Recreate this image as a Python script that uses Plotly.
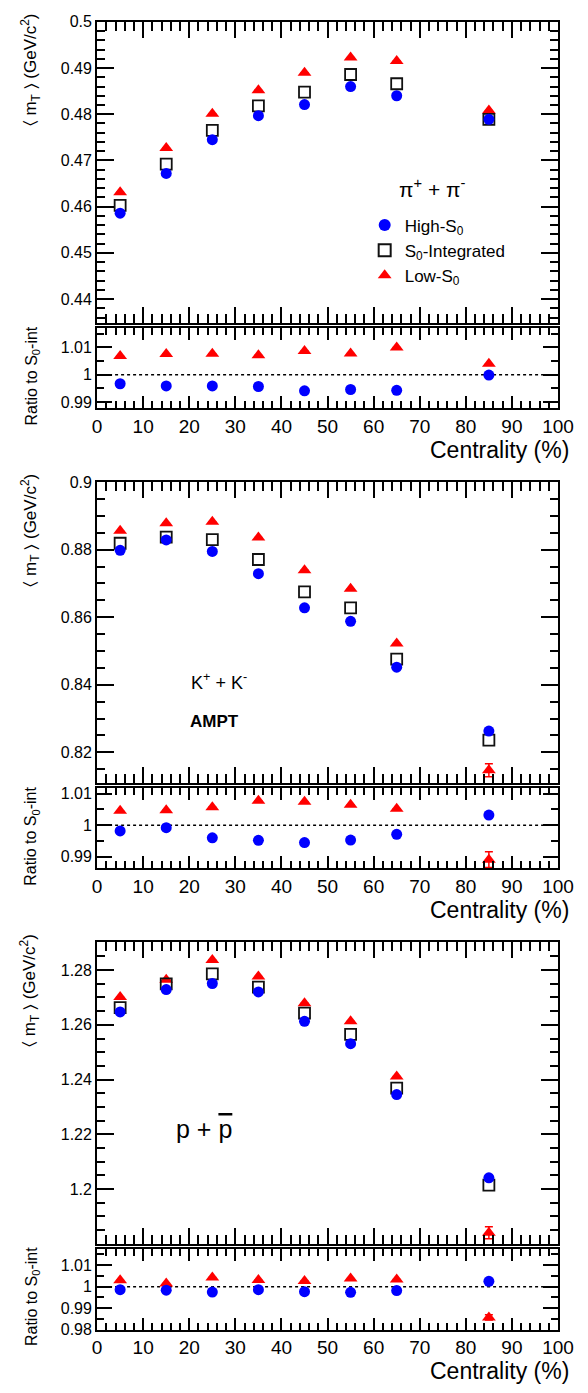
import plotly.graph_objects as go

# ---------------- data ----------------
centrality = [5, 15, 25, 35, 45, 55, 65, 85]

pi_high = [0.4586, 0.4672, 0.4745, 0.4797, 0.4821, 0.4860, 0.4840, 0.4789]
pi_int = [0.4603, 0.4692, 0.4765, 0.4818, 0.4848, 0.4886, 0.4866, 0.4789]
pi_low = [0.4631, 0.4727, 0.4801, 0.4852, 0.4890, 0.4923, 0.4915, 0.4808]
pi_low_err = [0, 0, 0, 0, 0, 0, 0, 0]
pi_ratio_high = [0.9967, 0.9959, 0.9959, 0.9957, 0.9941, 0.9946, 0.9943, 0.9999]
pi_ratio_low = [1.0069, 1.0076, 1.0077, 1.0071, 1.0087, 1.0078, 1.0100, 1.0040]
pi_ratio_low_err = [0, 0, 0, 0, 0, 0, 0, 0]

k_high = [0.8798, 0.8829, 0.8795, 0.8729, 0.8628, 0.8588, 0.8452, 0.8263]
k_int = [0.8819, 0.8837, 0.8830, 0.8771, 0.8675, 0.8628, 0.8476, 0.8236]
k_low = [0.8856, 0.8878, 0.8883, 0.8836, 0.8739, 0.8684, 0.8522, 0.8147]
k_low_err = [0, 0, 0, 0, 0, 0, 0, 0.0019]
k_ratio_high = [0.9982, 0.9992, 0.9960, 0.9952, 0.9945, 0.9953, 0.9971, 1.0032]
k_ratio_low = [1.0046, 1.0047, 1.0057, 1.0077, 1.0074, 1.0065, 1.0052, 0.9891]
k_ratio_low_err = [0, 0, 0, 0, 0, 0, 0, 0.0025]

p_high = [1.2647, 1.2729, 1.2751, 1.2720, 1.2613, 1.2531, 1.2345, 1.2041]
p_int = [1.2663, 1.2750, 1.2786, 1.2738, 1.2643, 1.2565, 1.2369, 1.2014]
p_low = [1.2702, 1.2765, 1.2837, 1.2777, 1.2679, 1.2613, 1.2411, 1.1840]
p_low_err = [0, 0, 0, 0, 0, 0, 0, 0.0022]
p_ratio_high = [0.9986, 0.9984, 0.9975, 0.9986, 0.9977, 0.9974, 0.9982, 1.0025]
p_ratio_low = [1.0030, 1.0015, 1.0043, 1.0031, 1.0026, 1.0038, 1.0034, 0.9857]
p_ratio_low_err = [0, 0, 0, 0, 0, 0, 0, 0.0012]

x_ticks = [0, 10, 20, 30, 40, 50, 60, 70, 80, 90, 100]
pi_yticks = [0.44, 0.45, 0.46, 0.47, 0.48, 0.49, 0.5]
pi_ylabels = ["0.44", "0.45", "0.46", "0.47", "0.48", "0.49", "0.5"]
k_yticks = [0.82, 0.84, 0.86, 0.88, 0.9]
k_ylabels = ["0.82", "0.84", "0.86", "0.88", "0.9"]
p_yticks = [1.2, 1.22, 1.24, 1.26, 1.28]
p_ylabels = ["1.2", "1.22", "1.24", "1.26", "1.28"]
r_yticks = [0.99, 1.0, 1.01]
r_ylabels = ["0.99", "1", "1.01"]
r3_yticks = [0.98, 0.99, 1.0, 1.01]
r3_ylabels = ["0.98", "0.99", "1", "1.01"]

series_names = ["Low-S<sub>0</sub>", "S<sub>0</sub>-Integrated", "High-S<sub>0</sub>"]

# ---------------- layout helpers ----------------
W, H = 588, 1393
FONT = "Liberation Sans, Arial, Helvetica, sans-serif"
X0, X1 = 95.5, 573.5


def ydom(top_px, bot_px):
    return [1 - bot_px / H, 1 - top_px / H]


panels = [
    # (main top, main bottom, ratio top, ratio bottom)
    (14, 319, 324, 405),
    (480, 785, 790, 871),
    (946, 1251, 1256, 1338),
]

RED = "#ff0000"
BLUE = "#0000ff"

fig = go.Figure()


def add_main(i, low, low_err, integ, high, showlegend):
    xa = "x" if i == 0 else f"x{2*i+1}"
    ya = "y" if i == 0 else f"y{2*i+1}"
    fig.add_trace(go.Scatter(
        x=centrality, y=low, mode="markers", name=series_names[0],
        marker=dict(symbol="triangle-up", size=12, color=RED),
        error_y=dict(type="data", array=low_err, color=RED, thickness=1.5, width=4, visible=True),
        xaxis=xa, yaxis=ya, showlegend=showlegend, legendrank=3))
    fig.add_trace(go.Scatter(
        x=centrality, y=integ, mode="markers", name=series_names[1],
        marker=dict(symbol="square-open", size=11, color="#111111", line=dict(width=1.8)),
        xaxis=xa, yaxis=ya, showlegend=showlegend, legendrank=2))
    fig.add_trace(go.Scatter(
        x=centrality, y=high, mode="markers", name=series_names[2],
        marker=dict(symbol="circle", size=11, color=BLUE),
        xaxis=xa, yaxis=ya, showlegend=showlegend, legendrank=1))


def add_ratio(i, low, low_err, high):
    xa = f"x{2*i+2}"
    ya = f"y{2*i+2}"
    fig.add_trace(go.Scatter(
        x=centrality, y=low, mode="markers", name=series_names[0],
        marker=dict(symbol="triangle-up", size=12, color=RED),
        error_y=dict(type="data", array=low_err, color=RED, thickness=1.5, width=4, visible=True),
        xaxis=xa, yaxis=ya, showlegend=False))
    fig.add_trace(go.Scatter(
        x=centrality, y=high, mode="markers", name=series_names[2],
        marker=dict(symbol="circle", size=11, color=BLUE),
        xaxis=xa, yaxis=ya, showlegend=False))


add_main(0, pi_low, pi_low_err, pi_int, pi_high, True)
add_ratio(0, pi_ratio_low, pi_ratio_low_err, pi_ratio_high)
add_main(1, k_low, k_low_err, k_int, k_high, False)
add_ratio(1, k_ratio_low, k_ratio_low_err, k_ratio_high)
add_main(2, p_low, p_low_err, p_int, p_high, False)
add_ratio(2, p_ratio_low, p_ratio_low_err, p_ratio_high)

main_ranges = [[0.4348, 0.5], [0.8108, 0.9], [1.18, 1.2901]]
main_ticks = [(pi_yticks, pi_ylabels, 0.002), (k_yticks, k_ylabels, 0.005), (p_yticks, p_ylabels, 0.005)]
ratio_ranges = [[0.9878, 1.0171], [0.98634, 1.01166], [0.98, 1.0177]]
ratio_ticks = [(r_yticks, r_ylabels), (r_yticks, r_ylabels), (r3_yticks, r3_ylabels)]

layout = {}
axis_common = dict(showline=True, linecolor="black", linewidth=2, mirror="ticks",
                   ticks="inside", tickcolor="black", tickwidth=2, showgrid=False,
                   zeroline=False, ticklabeloverflow="allow",
                   tickfont=dict(family=FONT, color="black"))

shapes = []
annotations = []
for i, (mt, mb, rt, rb) in enumerate(panels):
    xm = "xaxis" if i == 0 else f"xaxis{2*i+1}"
    ym = "yaxis" if i == 0 else f"yaxis{2*i+1}"
    xr = f"xaxis{2*i+2}"
    yr = f"yaxis{2*i+2}"
    ym_anchor = "y" if i == 0 else f"y{2*i+1}"
    xm_anchor = "x" if i == 0 else f"x{2*i+1}"
    layout[xm] = dict(axis_common, domain=[X0 / W, X1 / W], range=[0, 100], anchor=ym_anchor,
                      tickvals=x_ticks, showticklabels=False, ticklen=16,
                      minor=dict(ticks="inside", ticklen=9, tickwidth=1.5, tickcolor="black",
                                 tickmode="linear", tick0=0, dtick=2))
    tv, tl, mdt = main_ticks[i]
    layout[ym] = dict(axis_common, domain=ydom(mt, mb), range=main_ranges[i], anchor=xm_anchor,
                      tickvals=tv, ticktext=tl, ticklen=17, tickfont=dict(family=FONT, size=16, color="black"),
                      minor=dict(ticks="inside", ticklen=8, tickwidth=1.5, tickcolor="black",
                                 tickmode="linear", tick0=0, dtick=mdt))
    layout[xr] = dict(axis_common, domain=[X0 / W, X1 / W], range=[0, 100], anchor=f"y{2*i+2}",
                      tickvals=x_ticks, ticktext=[str(v) for v in x_ticks], ticklen=12,
                      tickfont=dict(family=FONT, size=19, color="black"),
                      minor=dict(ticks="inside", ticklen=7, tickwidth=1.5, tickcolor="black",
                                 tickmode="linear", tick0=0, dtick=2))
    rtv, rtl = ratio_ticks[i]
    layout[yr] = dict(axis_common, domain=ydom(rt, rb), range=ratio_ranges[i], anchor=f"x{2*i+2}",
                      tickvals=rtv, ticktext=rtl, ticklen=15, tickfont=dict(family=FONT, size=16, color="black"),
                      minor=dict(ticks="inside", ticklen=7, tickwidth=1.5, tickcolor="black",
                                 tickmode="linear", tick0=0, dtick=0.005))
    # dashed reference line at ratio = 1
    shapes.append(dict(type="line", xref=f"x{2*i+2}", yref=f"y{2*i+2}", x0=0, x1=100, y0=1, y1=1,
                       line=dict(color="black", width=1.5, dash="3px,3px"), layer="below"))
    # axis titles
    annotations.append(dict(text="\u2329 m<sub>T</sub> \u232a (GeV/c<sup>2</sup>)", textangle=-90,
                            xref="paper", yref="paper", x=26 / W, y=1 - (mt + 49) / H,
                            xanchor="center", yanchor="middle", showarrow=False,
                            font=dict(family=FONT, size=17, color="black")))
    annotations.append(dict(text="Ratio to S<sub>0</sub>-int", textangle=-90,
                            xref="paper", yref="paper", x=28 / W, y=1 - (rt + 49) / H,
                            xanchor="center", yanchor="middle", showarrow=False,
                            font=dict(family=FONT, size=16, color="black")))
    annotations.append(dict(text="Centrality (%)", xref="paper", yref="paper",
                            x=587 / W, y=1 - (rb + 42) / H, xanchor="right", yanchor="middle",
                            showarrow=False, font=dict(family=FONT, size=23, color="black")))

annotations.append(dict(text="\u03c0<sup>+</sup> + \u03c0<sup>-</sup>", xref="paper", yref="paper",
                        x=443 / W, y=1 - 182 / H, xanchor="center", yanchor="middle", showarrow=False,
                        font=dict(family=FONT, size=21, color="black")))
annotations.append(dict(text="K<sup>+</sup> + K<sup>-</sup>", xref="paper", yref="paper",
                        x=222 / W, y=1 - 682 / H, xanchor="center", yanchor="middle", showarrow=False,
                        font=dict(family=FONT, size=18, color="black")))
annotations.append(dict(text="<b>AMPT</b>", xref="paper", yref="paper",
                        x=217 / W, y=1 - 722 / H, xanchor="center", yanchor="middle", showarrow=False,
                        font=dict(family=FONT, size=17, color="black")))
annotations.append(dict(text="p + <span style='text-decoration:overline'>p</span>", xref="paper", yref="paper",
                        x=206 / W, y=1 - 1135 / H, xanchor="center", yanchor="middle", showarrow=False,
                        font=dict(family=FONT, size=25, color="black")))

fig.update_layout(
    width=W, height=H, margin=dict(l=0, r=0, t=0, b=0),
    paper_bgcolor="white", plot_bgcolor="white",
    font=dict(family=FONT, color="black"),
    showlegend=True,
    legend=dict(x=373 / W, y=1 - 202 / H, xanchor="left", yanchor="top",
                font=dict(family=FONT, size=17, color="black"), bgcolor="rgba(0,0,0,0)",
                traceorder="normal", itemsizing="constant"),
    shapes=shapes, annotations=annotations,
    **layout,
)

fig.write_html("out.html", config={"displayModeBar": False},
               post_script="document.body.style.margin='0';document.body.style.overflow='hidden';")
